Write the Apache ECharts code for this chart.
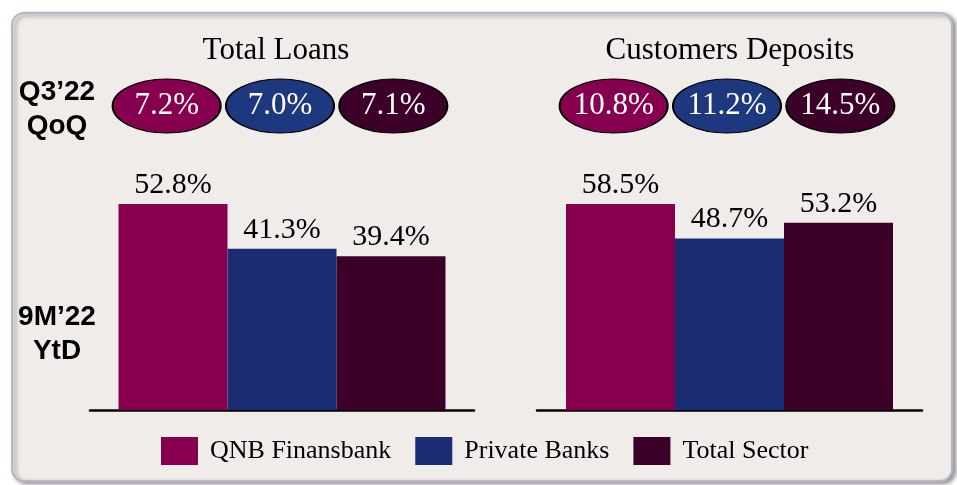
<!DOCTYPE html>
<html>
<head>
<meta charset="utf-8">
<script src="https://cdn.jsdelivr.net/npm/echarts@6/dist/echarts.min.js"></script>
<style>
  html, body { margin: 0; padding: 0; background: #ffffff; }
  #chart { width: 957px; height: 485px; }
</style>
</head>
<body>
<div id="chart"></div>
<script>
// data
const banks = ['QNB Finansbank', 'Private Banks', 'Total Sector'];
const panels = ['Total Loans', 'Customers Deposits'];
const qoqLoans = [7.2, 7.0, 7.1];
const qoqDeposits = [10.8, 11.2, 14.5];
const ytdLoans = [52.8, 41.3, 39.4];
const ytdDeposits = [58.5, 48.7, 53.2];
const rowLabels = ['Q3’22\nQoQ', '9M’22\nYtD'];

const barColors = ['#870050', '#1a2c72', '#3d0029'];
const ovalColors = ['#870050', '#1e3880', '#3d0029'];

const serif = '"Liberation Serif", "Times New Roman", serif';
const sans = '"Liberation Sans", Arial, sans-serif';
const ovalPath = 'path://M0,100 C0,45 45,0 100,0 C155,0 200,45 200,100 C200,155 155,200 100,200 C45,200 0,155 0,100 Z';

let chart = echarts.init(document.getElementById('chart'), null, {renderer: 'canvas'});

const pct = v => v.toFixed(1) + '%';

function barSeries(values, gridIdx) {
  return banks.map((name, i) => ({
    name: name,
    type: 'bar',
    xAxisIndex: gridIdx,
    yAxisIndex: gridIdx,
    barWidth: 109,
    barGap: '0%',
    itemStyle: {color: barColors[i]},
    label: {
      show: true,
      position: 'top',
      distance: 4,
      color: '#000',
      fontFamily: serif,
      fontSize: 30,
      formatter: p => pct(p.value)
    },
    data: [values[i]]
  }));
}

function ovalSeries(values, gridIdx) {
  return {
    type: 'scatter',
    xAxisIndex: gridIdx,
    yAxisIndex: gridIdx,
    symbol: ovalPath,
    symbolSize: [108, 54],
    itemStyle: {
      color: p => ovalColors[p.dataIndex],
      borderColor: '#000',
      borderWidth: 1.5,
      opacity: 1
    },
    label: {
      show: true,
      position: 'inside',
      color: '#fff',
      fontFamily: serif,
      fontSize: 31,
      formatter: p => pct(p.value[2])
    },
    data: values.map((v, i) => [i, 0, v])
  };
}

const hiddenAxis = {show: false};
const rowStyle = {fontFamily: sans, fontSize: 28, fontWeight: 'bold', color: '#000', lineHeight: 34};
const titleStyle = {fontFamily: serif, fontSize: 31, fontWeight: 'normal', color: '#000'};

chart.setOption({
  backgroundColor: '#ffffff',
  animation: false,
  graphic: [{
    type: 'rect',
    z: -10,
    silent: true,
    shape: {x: 12, y: 13, width: 940, height: 468, r: 12},
    style: {
      fill: '#f0ecea',
      stroke: '#bcb3ca',
      lineWidth: 2,
      shadowBlur: 4,
      shadowOffsetX: 3,
      shadowOffsetY: 2,
      shadowColor: 'rgba(0,0,0,0.4)'
    }
  }],
  title: [
    {text: panels[0], left: 271, top: 30, textAlign: 'center', textStyle: titleStyle},
    {text: panels[1], left: 725, top: 30, textAlign: 'center', textStyle: titleStyle},
    {text: rowLabels[0], left: 52, top: 70, textAlign: 'center', textStyle: rowStyle},
    {text: rowLabels[1], left: 52, top: 295, textAlign: 'center', textStyle: rowStyle}
  ],
  legend: {
    data: banks,
    left: 156,
    top: 432,
    icon: 'rect',
    itemWidth: 37,
    itemHeight: 28,
    itemGap: 24,
    textStyle: {fontFamily: serif, fontSize: 26, color: '#000', padding: [0, 0, 0, 7]}
  },
  grid: [
    {left: 90, top: 204, width: 384, height: 206},
    {left: 537, top: 204, width: 385, height: 206},
    {left: 110, top: 79, width: 340, height: 54},
    {left: 557, top: 79, width: 340, height: 54}
  ],
  xAxis: [
    {gridIndex: 0, type: 'category', data: [panels[0]],
     axisLine: {lineStyle: {color: '#000', width: 2.5}}, axisTick: {show: false}, axisLabel: {show: false}},
    {gridIndex: 1, type: 'category', data: [panels[1]],
     axisLine: {lineStyle: {color: '#000', width: 2.5}}, axisTick: {show: false}, axisLabel: {show: false}},
    Object.assign({gridIndex: 2, type: 'category', data: banks}, hiddenAxis),
    Object.assign({gridIndex: 3, type: 'category', data: banks}, hiddenAxis)
  ],
  yAxis: [
    {gridIndex: 0, type: 'value', min: 0, max: 'dataMax', show: false},
    {gridIndex: 1, type: 'value', min: 0, max: 'dataMax', show: false},
    {gridIndex: 2, type: 'category', data: [rowLabels[0]], show: false},
    {gridIndex: 3, type: 'category', data: [rowLabels[0]], show: false}
  ],
  series: [
    ...barSeries(ytdLoans, 0),
    ...barSeries(ytdDeposits, 1),
    ovalSeries(qoqLoans, 2),
    ovalSeries(qoqDeposits, 3)
  ]
});
</script>
</body>
</html>
